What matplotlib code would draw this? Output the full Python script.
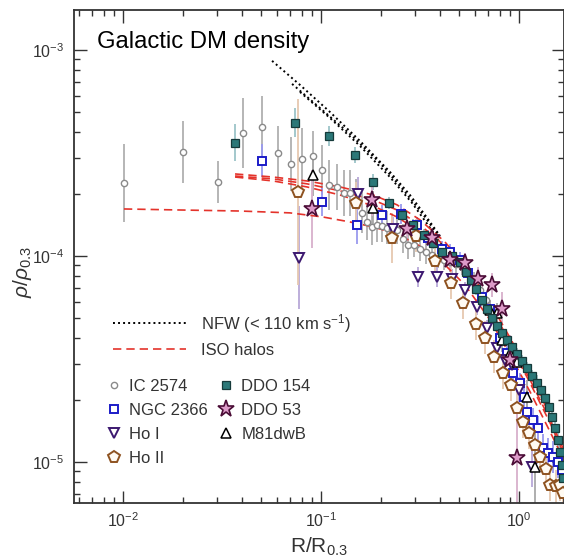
import numpy as np
import matplotlib
matplotlib.use('Agg')
import matplotlib.pyplot as plt
from matplotlib.lines import Line2D

plt.rcParams['font.family'] = ['Liberation Sans', 'DejaVu Sans']
plt.rcParams['mathtext.fontset'] = 'custom'
plt.rcParams['mathtext.rm'] = 'Liberation Sans'
plt.rcParams['mathtext.it'] = 'Liberation Sans:italic'
plt.rcParams['mathtext.bf'] = 'Liberation Sans:bold'

# all values are log10(R/R_0.3), log10(rho/rho_0.3),
# errors are half-lengths of the bars in dex
ic2574_logR = [-1.995, -1.697, -1.520, -1.394, -1.298, -1.217, -1.152, -1.096, -1.040, -0.995,
               -0.960, -0.919, -0.884, -0.854, -0.823, -0.793, -0.768, -0.742, -0.717, -0.692,
               -0.667, -0.641, -0.616, -0.586, -0.561, -0.530, -0.500, -0.470, -0.439, -0.409,
               -0.379, -0.348, -0.318, -0.288, -0.258, -0.227, -0.197, -0.167]
ic2574_logrho = [-3.646, -3.495, -3.641, -3.403, -3.374, -3.500, -3.553, -3.529, -3.515, -3.583,
                 -3.655, -3.665, -3.694, -3.694, -3.728, -3.791, -3.835, -3.859, -3.850, -3.854,
                 -3.864, -3.869, -3.874, -3.917, -3.947, -3.947, -3.966, -3.981, -3.995, -4.010,
                 -4.019, -4.029, -4.039, -4.053, -4.078, -4.117, -4.165, -4.214]
ic2574_err = [0.19, 0.15, 0.10, 0.17, 0.15, 0.13, 0.13, 0.15, 0.12, 0.12,
              0.12, 0.11, 0.11, 0.11, 0.10, 0.10, 0.09, 0.09, 0.08, 0.08,
              0.08, 0.07, 0.07, 0.07, 0.07, 0.06, 0.06, 0.06, 0.05, 0.05,
              0.05, 0.05, 0.05, 0.04, 0.04, 0.04, 0.04, 0.04]

ngc2366_logR = [-1.298, -0.995, -0.818, -0.692, -0.596, -0.515, -0.460, -0.389, -0.348, -0.298,
                -0.258, -0.187, -0.146, -0.096, -0.061, -0.030, 0.005, 0.025, 0.040, 0.071,
                0.096, 0.121, 0.146, 0.172, 0.197, 0.217]
ngc2366_logrho = [-3.539, -3.738, -3.850, -3.801, -3.796, -3.850, -3.913, -3.966, -3.981, -4.019,
                  -4.083, -4.199, -4.257, -4.398, -4.471, -4.568, -4.617, -4.684, -4.757, -4.796,
                  -4.835, -4.932, -4.956, -4.976, -5.000, -5.039]
ngc2366_err = [0.08, 0.07, 0.09, 0.05, 0.05, 0.04, 0.04, 0.04, 0.04, 0.04,
               0.04, 0.04, 0.04, 0.05, 0.05, 0.05, 0.05, 0.05, 0.06, 0.06,
               0.06, 0.07, 0.07, 0.08, 0.08, 0.08]

hoI_logR = [-1.111, -0.813, -0.636, -0.510, -0.414, -0.338, -0.273, -0.212, -0.162, -0.111,
            -0.071, -0.035, 0.000, 0.066]
hoI_logrho = [-4.010, -3.699, -3.869, -4.102, -4.102, -4.112, -4.165, -4.248, -4.350, -4.447,
              -4.505, -4.529, -4.650, -5.024]
hoI_err = [0.25, 0.08, 0.06, 0.05, 0.05, 0.05, 0.04, 0.04, 0.04, 0.04,
           0.05, 0.05, 0.06, 0.10]

hoII_logR = [-1.116, -0.823, -0.641, -0.520, -0.424, -0.343, -0.283, -0.217, -0.172, -0.126,
             -0.081, -0.040, -0.010, 0.020, 0.051, 0.081, 0.106, 0.136, 0.157, 0.187,
             0.207, 0.222]
hoII_logrho = [-3.689, -3.743, -3.913, -3.903, -4.024, -4.131, -4.228, -4.330, -4.398, -4.490,
               -4.568, -4.626, -4.738, -4.806, -4.859, -4.917, -4.976, -5.034, -5.112, -5.117,
               -5.112, -5.150]
hoII_err = [0.45, 0.10, 0.12, 0.08, 0.08, 0.08, 0.08, 0.08, 0.08, 0.08,
            0.08, 0.08, 0.08, 0.08, 0.08, 0.08, 0.08, 0.08, 0.08, 0.08,
            0.08, 0.08]

ddo154_logR = [-1.434, -1.131, -0.960, -0.828, -0.737, -0.657, -0.591, -0.535, -0.480, -0.434,
               -0.389, -0.338, -0.298, -0.268, -0.242, -0.217, -0.187, -0.162, -0.136, -0.111,
               -0.086, -0.061, -0.035, -0.010, 0.015, 0.040, 0.066, 0.091, 0.111, 0.131,
               0.152, 0.167, 0.182, 0.197, 0.207, 0.217, 0.222]
ddo154_logrho = [-3.451, -3.354, -3.417, -3.510, -3.641, -3.743, -3.801, -3.850, -3.898, -3.937,
                 -3.981, -4.000, -4.029, -4.078, -4.117, -4.160, -4.214, -4.257, -4.301, -4.340,
                 -4.374, -4.408, -4.442, -4.476, -4.510, -4.544, -4.583, -4.617, -4.650, -4.689,
                 -4.733, -4.782, -4.835, -4.893, -4.951, -5.015, -5.078]
ddo154_err = [0.09, 0.07, 0.05, 0.04, 0.04, 0.03, 0.03, 0.03, 0.03, 0.03,
              0.03, 0.03, 0.03, 0.03, 0.03, 0.03, 0.03, 0.03, 0.03, 0.03,
              0.03, 0.03, 0.03, 0.03, 0.03, 0.03, 0.03, 0.04, 0.04, 0.04,
              0.04, 0.04, 0.05, 0.05, 0.05, 0.05, 0.05]

ddo53_logR = [-1.045, -0.742, -0.566, -0.439, -0.348, -0.273, -0.207, -0.136, -0.086, -0.045, -0.010]
ddo53_logrho = [-3.772, -3.728, -3.869, -3.913, -4.019, -4.034, -4.112, -4.141, -4.257, -4.505, -4.981]
ddo53_err = [0.19, 0.08, 0.06, 0.05, 0.05, 0.05, 0.06, 0.06, 0.08, 0.12, 0.25]

m81dwb_logR = [-1.040, -0.737, -0.146, -0.111, -0.086, -0.045, -0.010, 0.040, 0.081]
m81dwb_logrho = [-3.607, -3.767, -4.262, -4.277, -4.408, -4.471, -4.515, -4.684, -5.024]
m81dwb_err = [0.10, 0.08, 0.05, 0.05, 0.06, 0.06, 0.07, 0.08, 0.18]

# NFW model curves (black dotted)
nfw1_logR = [-1.247, -1.106, -0.955, -0.803, -0.652, -0.551, -0.475, -0.399]
nfw1_logrho = [-3.053, -3.170, -3.301, -3.442, -3.592, -3.704, -3.801, -3.903]
nfw2_logR = [-1.146, -1.005, -0.854, -0.702, -0.576, -0.475, -0.399]
nfw2_logrho = [-3.165, -3.282, -3.408, -3.549, -3.689, -3.811, -3.913]
nfw3_logR = [-1.106, -0.955, -0.803, -0.652, -0.540, -0.449, -0.374]
nfw3_logrho = [-3.204, -3.330, -3.466, -3.617, -3.743, -3.864, -3.971]

# ISO halo curves (red dashed)
isoA_logR = [-1.995, -1.712, -1.409, -1.157, -0.990, -0.854, -0.737, -0.636, -0.525, -0.399,
             -0.273, -0.146, -0.045, 0.056, 0.157, 0.222]
isoA_logrho = [-3.772, -3.777, -3.782, -3.791, -3.811, -3.835, -3.859, -3.888, -3.937, -4.019,
               -4.141, -4.311, -4.481, -4.660, -4.854, -4.981]
iso_upper_logR = [-1.434, -1.242, -1.071, -0.904, -0.737, -0.616, -0.500, -0.374, -0.247, -0.146,
                  -0.045, 0.056, 0.157, 0.222]
isoB_logrho = [-3.602, -3.617, -3.636, -3.665, -3.704, -3.752, -3.825, -3.932, -4.078, -4.228,
               -4.398, -4.578, -4.772, -4.908]
isoC_logrho = [-3.612, -3.626, -3.650, -3.684, -3.728, -3.777, -3.850, -3.951, -4.097, -4.248,
               -4.417, -4.602, -4.796, -4.932]
isoD_logrho = [-3.617, -3.636, -3.665, -3.704, -3.757, -3.811, -3.883, -3.981, -4.117, -4.262,
               -4.432, -4.617, -4.811, -4.951]

fig = plt.figure(figsize=(5.64, 5.6), dpi=100)
ax = fig.add_axes([0.1312, 0.1018, 0.8688, 0.8804])
ax.set_xscale('log')
ax.set_yscale('log')

def lin(a):
    return 10 ** np.asarray(a)

nfw_style = dict(color='black', ls=(0, (1, 1.6)), lw=1.4)
for lr, lrho in [(nfw1_logR, nfw1_logrho), (nfw2_logR, nfw2_logrho), (nfw3_logR, nfw3_logrho)]:
    ax.plot(lin(lr), lin(lrho), zorder=2, **nfw_style)

iso_color = '#e4332b'
iso_style = dict(color=iso_color, ls=(0, (5, 3)), lw=1.2)
ax.plot(lin(isoA_logR), lin(isoA_logrho), zorder=2, **iso_style)
for lrho in [isoB_logrho, isoC_logrho, isoD_logrho]:
    ax.plot(lin(iso_upper_logR), lin(lrho), zorder=2, **iso_style)


def draw_series(logR, logrho, dex, marker, ms, face, edge, ecolor, mew, label, z):
    R = lin(logR)
    rho = lin(logrho)
    dex = np.asarray(dex)
    lo = rho - rho * 10 ** -dex
    hi = rho * 10 ** dex - rho
    ax.errorbar(R, rho, yerr=[lo, hi], fmt='none', ecolor=ecolor, elinewidth=1.3,
                capsize=0, zorder=1)
    line, = ax.plot(R, rho, ls='none', marker=marker, ms=ms, mfc=face, mec=edge,
                    mew=mew, zorder=z, label=label)
    return line

h_ic = draw_series(ic2574_logR, ic2574_logrho, ic2574_err, 'o', 4.5, 'white', '#8a8a8a',
                   '#b0b0b0', 1.0, 'IC 2574', 3)
h_ngc = draw_series(ngc2366_logR, ngc2366_logrho, ngc2366_err, 's', 5.5, 'white', '#1c1cc8',
                    '#9a9aee', 1.4, 'NGC 2366', 4)
h_hoI = draw_series(hoI_logR, hoI_logrho, hoI_err, 'v', 6.5, 'white', '#3c1870',
                    '#b8a8d8', 1.4, 'Ho I', 5)
h_hoII = draw_series(hoII_logR, hoII_logrho, hoII_err, 'p', 8.5, '#fffaf2', '#8e5220',
                     '#e6c8b0', 1.4, 'Ho II', 6)
h_m81 = draw_series(m81dwb_logR, m81dwb_logrho, m81dwb_err, '^', 7, 'white', 'black',
                    '#a8a8a8', 1.1, 'M81dwB', 7)
h_ddo154 = draw_series(ddo154_logR, ddo154_logrho, ddo154_err, 's', 5.5, '#2b7878', '#163a3a',
                       '#9cc4c8', 0.9, 'DDO 154', 8)
h_ddo53 = draw_series(ddo53_logR, ddo53_logrho, ddo53_err, '*', 12.5, '#dc9ac8', '#4a0c36',
                      '#d8b0cc', 1.2, 'DDO 53', 9)

ax.set_xlim(0.00566, 1.687)
ax.set_ylim(6.32e-6, 1.563e-3)

for s in ax.spines.values():
    s.set_linewidth(1.3)
    s.set_color('#333333')
ax.tick_params(which='both', direction='in', top=True, right=True, color='#333333',
               width=1.0, labelcolor='#333333', labelsize=11.5)
ax.tick_params(which='major', length=9)
ax.tick_params(which='minor', length=4.5)
ax.tick_params(axis='x', pad=6)
ax.tick_params(axis='y', pad=7)

ax.text(0.047, 0.923, 'Galactic DM density', transform=ax.transAxes, fontsize=17.2,
        color='black', va='baseline', ha='left')

ax.set_xlabel(r'R/R$_{0.3}$', fontsize=15, color='#333333')
ax.xaxis.set_label_coords(0.5, -0.066)
fig.text(22 / 564, 1 - 272 / 560, r'$\rho/\rho_{0.3}$', rotation=90, fontsize=15,
         color='#333333', ha='center', va='center')

# legend for the model curves
line_handles = [Line2D([], [], **nfw_style), Line2D([], [], **iso_style)]
leg1 = ax.legend(line_handles, [r'NFW (< 110 km s$^{-1}$)', 'ISO halos'],
                 loc='upper left', bbox_to_anchor=(113 / 564, 1 - 312 / 560),
                 bbox_transform=fig.transFigure, frameon=False, fontsize=12,
                 handlelength=4.4, handletextpad=0.9, labelspacing=0.5,
                 borderpad=0, borderaxespad=0, labelcolor='#333333')
ax.add_artist(leg1)

sym_handles = [h_ic, h_ngc, h_hoI, h_hoII, h_ddo154, h_ddo53, h_m81]
leg2 = ax.legend(sym_handles, [h.get_label() for h in sym_handles], ncol=2,
                 loc='upper left', bbox_to_anchor=(106 / 564, 1 - 379 / 560),
                 bbox_transform=fig.transFigure, frameon=False, fontsize=12,
                 handlelength=1.0, handletextpad=0.4, labelspacing=0.54,
                 columnspacing=0.6, borderpad=0, borderaxespad=0,
                 labelcolor='#333333', numpoints=1)

fig.savefig('out.png', dpi=100)
